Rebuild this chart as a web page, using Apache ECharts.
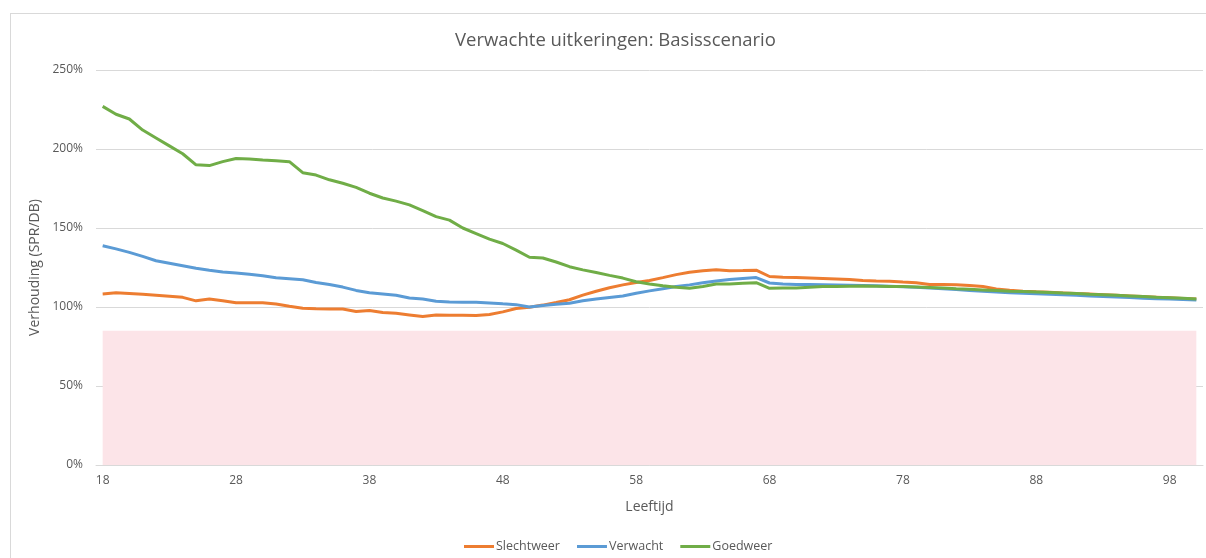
<!DOCTYPE html>
<html>
<head>
<meta charset="utf-8">
<script src="https://cdn.jsdelivr.net/npm/echarts@6/dist/echarts.min.js"></script>
<style>
    html, body { margin: 0; padding: 0; background: #fff; }
    #frame {
        position: absolute; left: 10px; top: 13px; width: 1300px; height: 700px;
        border: 1px solid #d9d9d9; box-sizing: border-box;
    }
    #chart { position: absolute; left: 0; top: 0; width: 1206px; height: 558px; }
</style>
</head>
<body>
<div id="frame"></div>
<div id="chart"></div>
<script>
// leeftijden 18 t/m 100
const ages = [];
for (let a = 18; a <= 100; a++) ages.push(String(a));

const slechtweer = [
    108.3, 109, 108.5, 108, 107.4, 106.8, 106.1, 103.9, 105, 104,
    102.7, 102.7, 102.7, 101.9, 100.5, 99.2, 98.9, 98.7, 98.7, 97.2,
    97.8, 96.5, 96, 95, 94, 95, 94.8, 94.7, 94.6, 95.3,
    96.9, 99, 99.8, 101.2, 102.8, 104.6, 107.5, 110, 112.2, 114,
    115.5, 116.8, 118.6, 120.5, 122, 123, 123.5, 123, 123.1, 123.3,
    119.3, 118.9, 118.6, 118.3, 118, 117.7, 117.4, 116.8, 116.5, 116.3,
    115.8, 115.4, 114.3, 114.3, 114.1, 113.6, 113, 111.4, 110.6, 110,
    109.6, 109.3, 108.9, 108.5, 108.2, 107.8, 107.4, 107, 106.6, 106.2,
    105.8, 105.4, 105
];
const verwacht = [
    138.8, 136.8, 134.6, 132, 129.3, 127.7, 126.1, 124.5, 123.3, 122.2,
    121.5, 120.8, 119.8, 118.5, 117.9, 117.3, 115.5, 114.3, 112.6, 110.5,
    109, 108.3, 107.4, 105.7, 105, 103.7, 103.2, 103, 103, 102.6,
    102, 101.5, 100, 101, 101.8, 102.4, 103.9, 105, 106, 107,
    108.7, 110.2, 111.6, 113, 114, 115.3, 116.5, 117.4, 118, 118.6,
    115.2, 114.5, 114.3, 114.2, 114.1, 114, 113.8, 113.6, 113.4, 113.2,
    112.8, 112.5, 112, 111.5, 111, 110.5, 110, 109.5, 109, 108.7,
    108.4, 108, 107.7, 107.4, 107, 106.7, 106.3, 106, 105.6, 105.3,
    105, 104.7, 104.4
];
const goedweer = [
    227, 222, 219, 212, 207, 202, 197, 190, 189.5, 192,
    194, 193.7, 193, 192.5, 192, 185, 183.5, 180.5, 178.3, 175.7,
    172, 169, 167, 164.6, 161, 157.2, 155, 150, 146.5, 143,
    140.2, 136, 131.5, 131, 128.5, 125.5, 123.5, 121.8, 120, 118.3,
    116, 114.5, 113.4, 112.5, 111.8, 113, 114.6, 114.6, 115, 115.4,
    111.8, 112, 112, 112.5, 112.9, 113, 113.2, 113.3, 113.2, 113,
    112.9, 112.6, 112.3, 112, 111.5, 111.2, 110.8, 110.4, 110, 109.8,
    109.5, 109.2, 108.8, 108.5, 108.1, 107.8, 107.4, 107, 106.6, 106.2,
    105.9, 105.5, 105
];
const grens = 85; // roze zone onder deze verhouding

const textColor = '#595959';
const font = '"Open Sans", sans-serif';

const chart = echarts.init(document.getElementById('chart'));
chart.setOption({
    animation: false,
    textStyle: { fontFamily: font },
    title: {
        text: 'Verwachte uitkeringen: Basisscenario',
        left: 450,
        top: 26,
        textStyle: { color: textColor, fontSize: 18.5, fontWeight: 'normal', fontFamily: font }
    },
    grid: { left: 96, right: 3, top: 70, bottom: 93 },
    legend: {
        bottom: 0,
        left: 459,
        icon: 'rect',
        itemWidth: 30,
        itemHeight: 3,
        itemGap: 17,
        textStyle: { color: textColor, fontSize: 12.5, padding: [0, 0, 0, -3] },
        data: ['Slechtweer', 'Verwacht', 'Goedweer']
    },
    xAxis: {
        type: 'category',
        data: ages,
        boundaryGap: true,
        name: 'Leeftijd',
        nameLocation: 'middle',
        nameGap: 35,
        nameTextStyle: { color: textColor, fontSize: 14 },
        axisLine: { lineStyle: { color: '#d9d9d9' } },
        axisTick: { show: false },
        axisLabel: { interval: 9, color: textColor, fontSize: 12, margin: 10 }
    },
    yAxis: {
        type: 'value',
        min: 0,
        max: 250,
        interval: 50,
        name: 'Verhouding (SPR/DB)',
        nameLocation: 'middle',
        nameGap: 50,
        nameTextStyle: { color: textColor, fontSize: 14 },
        axisLabel: { color: textColor, fontSize: 12, margin: 13, formatter: '{value}%' },
        splitLine: { lineStyle: { color: '#d9d9d9' } }
    },
    series: [
        {
            name: 'Slechtweer',
            type: 'line',
            data: slechtweer,
            symbol: 'none',
            color: '#ED7D31',
            lineStyle: { width: 3 },
            markArea: {
                silent: true,
                itemStyle: { color: '#FCE4E8' },
                data: [[{ xAxis: ages[0], yAxis: 0 }, { xAxis: ages[ages.length - 1], yAxis: grens }]]
            }
        },
        {
            name: 'Verwacht',
            type: 'line',
            data: verwacht,
            symbol: 'none',
            color: '#5B9BD5',
            lineStyle: { width: 3 }
        },
        {
            name: 'Goedweer',
            type: 'line',
            data: goedweer,
            symbol: 'none',
            color: '#70AD47',
            lineStyle: { width: 3 }
        }
    ]
});
</script>
</body>
</html>
